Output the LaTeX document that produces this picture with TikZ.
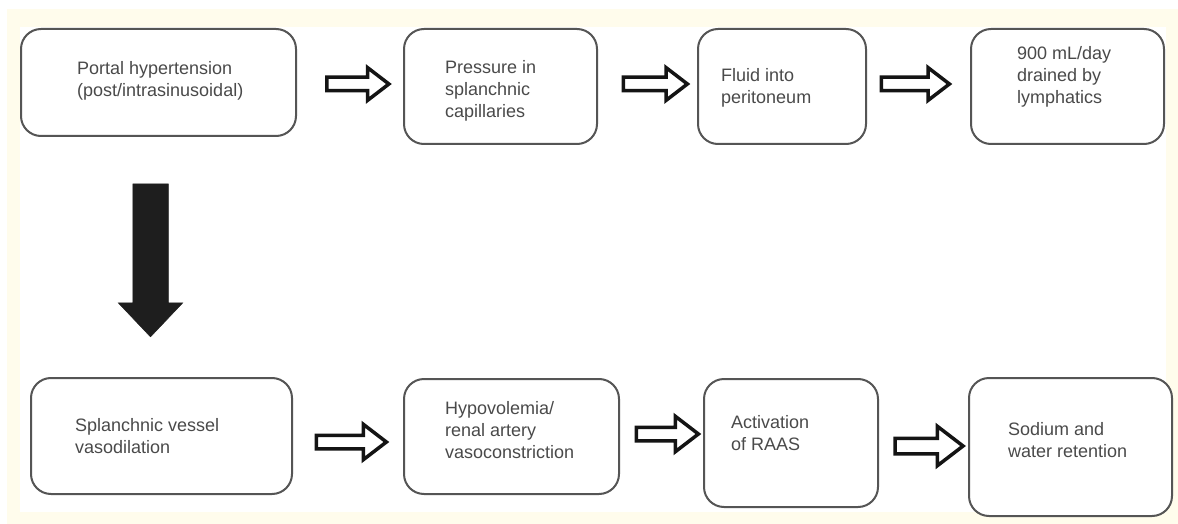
\documentclass[tikz,border=0pt]{standalone}
\usepackage{fontspec}
\setmainfont{Liberation Sans}
\usetikzlibrary{shapes.arrows, backgrounds}
\definecolor{paperfill}{HTML}{FFFCEC}
\definecolor{boxborder}{HTML}{555555}
\definecolor{textgray}{HTML}{4A4A4A}
\definecolor{arrowline}{HTML}{141414}
\definecolor{arrowfill}{HTML}{1E1E1E}
\tikzset{
  box/.style={
    rectangle,
    rounded corners=20pt,
    draw=boxborder,
    fill=white,
    line width=2pt,
    inner sep=0pt
  },
  boxtext/.style={
    anchor=west,
    align=left,
    inner sep=0pt,
    text=textgray,
    font=\fontsize{18}{22}\selectfont
  },
  hollow/.style={
    single arrow,
    draw=arrowline,
    fill=white,
    line width=3.5pt,
    inner xsep=0pt,
    inner ysep=5pt,
    single arrow head extend=9.5pt,
    single arrow tip angle=75,
    minimum height=62pt
  },
  solid/.style={
    single arrow,
    draw=arrowfill,
    fill=arrowfill,
    line width=0.5pt,
    inner xsep=0pt,
    inner ysep=17.5pt,
    single arrow head extend=14.5pt,
    single arrow tip angle=87,
    minimum height=153pt,
    rotate=-90
  }
}

\begin{document}
\begin{tikzpicture}[x=1pt, y=-1pt]

\useasboundingbox (0,0) rectangle (1178,524);

% Paper behind the chart.
\begin{pgfonlayer}{background}
  \fill[paperfill] (7,9) rectangle (1178,524);
  \fill[white] (20,27) rectangle (1166,512);
\end{pgfonlayer}

% Top row.
\node[box, minimum width=275pt, minimum height=107pt] (portal) at (158.5, 82.5) {};
\node[box, minimum width=193pt, minimum height=115pt] (pressure) at (500.5, 86.5) {};
\node[box, minimum width=168pt, minimum height=115pt] (fluid) at (782, 86.5) {};
\node[box, minimum width=193pt, minimum height=115pt] (drained) at (1067.5, 86.5) {};

\node[boxtext] (portal-text) at (77, 81) {Portal hypertension\\(post/intrasinusoidal)};
\node[boxtext] (pressure-text) at (445, 91) {Pressure in\\splanchnic\\capillaries};
\node[boxtext] (fluid-text) at (721, 88) {Fluid into\\peritoneum};
\node[boxtext] (drained-text) at (1017, 77) {900 mL/day\\drained by\\lymphatics};

% Bottom row.
\node[box, minimum width=261pt, minimum height=116pt] (vasodil) at (161.5, 436) {};
\node[box, minimum width=215pt, minimum height=115pt] (hypovol) at (511.5, 436.5) {};
\node[box, minimum width=174pt, minimum height=128pt] (raas) at (791, 443) {};
\node[box, minimum width=203pt, minimum height=138pt] (sodium) at (1070.5, 447) {};

\node[boxtext] (vasodil-text) at (75, 436) {Splanchnic vessel\\vasodilation};
\node[boxtext] (hypovol-text) at (445, 430) {Hypovolemia/\\renal artery\\vasoconstriction};
\node[boxtext] (raas-text) at (731, 433) {Activation\\of RAAS};
\node[boxtext] (sodium-text) at (1008, 440) {Sodium and\\water retention};

% Block arrows between the boxes.
\node[hollow] (portal-pressure) at (353.5, 84) {};
\node[hollow, minimum height=64pt] (pressure-fluid) at (651, 84) {};
\node[hollow, minimum height=68pt] (fluid-drained) at (911, 84) {};

\node[hollow, minimum height=70pt, single arrow head extend=11pt] (vasodil-hypovol) at (347, 442) {};
\node[hollow, minimum height=62pt, single arrow head extend=11pt] (hypovol-raas) at (663, 434) {};
\node[hollow, minimum height=68pt, inner ysep=6pt, single arrow head extend=12pt] (raas-sodium) at (924, 446) {};

% Down from portal hypertension.
\node[solid] (portal-vasodil) at (150.5, 251) {};

\end{tikzpicture}
\end{document}
